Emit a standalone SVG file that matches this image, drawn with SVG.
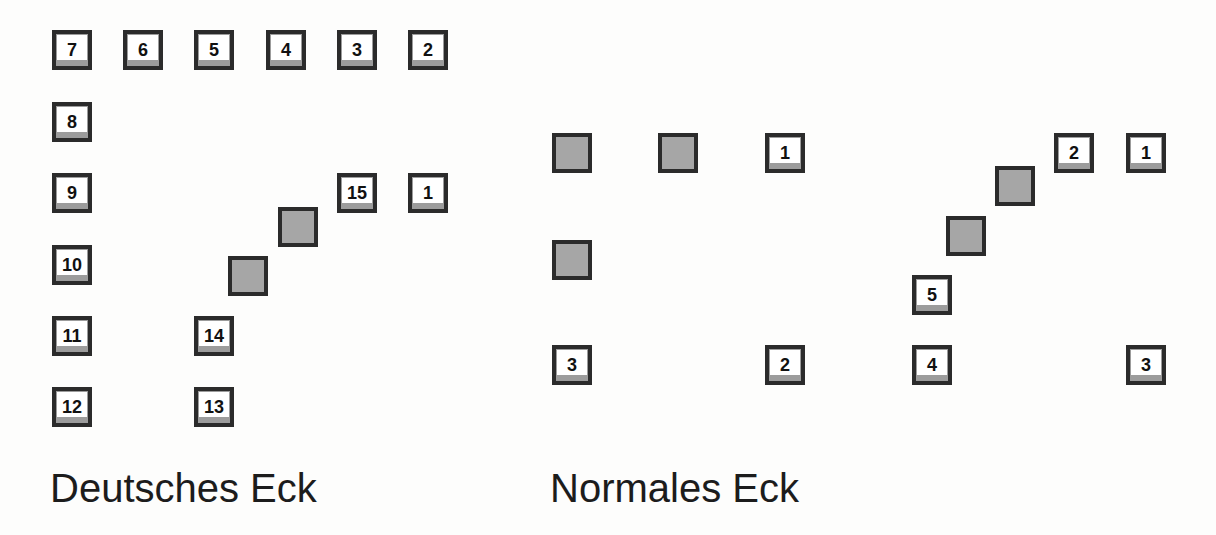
<svg xmlns="http://www.w3.org/2000/svg" xmlns:xlink="http://www.w3.org/1999/xlink" width="1216" height="535" viewBox="0 0 1216 535">
<style>
.num{font-family:"Liberation Sans",Arial,sans-serif;font-weight:bold;font-size:18px;fill:#111;text-anchor:middle}
.lbl{font-family:"Liberation Sans",Arial,sans-serif;font-size:40px;fill:#1c1c1c}
</style>
<defs>
<g id="tile">
<rect x="-20" y="-20" width="40" height="40" fill="#2b2b2b"/>
<rect x="-16" y="-16" width="32" height="32" fill="#9c9c9c"/>
<rect x="-15" y="-15" width="30" height="25" fill="#ffffff"/>
</g>
<g id="gtile">
<rect x="-20" y="-20" width="40" height="40" fill="#2b2b2b"/>
<rect x="-16" y="-16" width="32" height="32" fill="#a6a6a6"/>
</g>
</defs>
<rect width="1216" height="535" fill="#fdfdfc"/>
<g id="deutsches-eck">
<g id="d7"><use xlink:href="#tile" x="72" y="50"/><text class="num" x="72" y="56">7</text></g>
<g id="d6"><use xlink:href="#tile" x="143" y="50"/><text class="num" x="143" y="56">6</text></g>
<g id="d5"><use xlink:href="#tile" x="214" y="50"/><text class="num" x="214" y="56">5</text></g>
<g id="d4"><use xlink:href="#tile" x="286" y="50"/><text class="num" x="286" y="56">4</text></g>
<g id="d3"><use xlink:href="#tile" x="357" y="50"/><text class="num" x="357" y="56">3</text></g>
<g id="d2"><use xlink:href="#tile" x="428" y="50"/><text class="num" x="428" y="56">2</text></g>
<g id="d8"><use xlink:href="#tile" x="72" y="122"/><text class="num" x="72" y="128">8</text></g>
<g id="d9"><use xlink:href="#tile" x="72" y="193"/><text class="num" x="72" y="199">9</text></g>
<g id="d10"><use xlink:href="#tile" x="72" y="265"/><text class="num" x="72" y="271">10</text></g>
<g id="d11"><use xlink:href="#tile" x="72" y="336"/><text class="num" x="72" y="342">11</text></g>
<g id="d12"><use xlink:href="#tile" x="72" y="407"/><text class="num" x="72" y="413">12</text></g>
<g id="d15"><use xlink:href="#tile" x="357" y="193"/><text class="num" x="357" y="199">15</text></g>
<g id="d1"><use xlink:href="#tile" x="428" y="193"/><text class="num" x="428" y="199">1</text></g>
<g id="dg1"><use xlink:href="#gtile" x="298" y="227"/></g>
<g id="dg2"><use xlink:href="#gtile" x="248" y="276"/></g>
<g id="d14"><use xlink:href="#tile" x="214" y="336"/><text class="num" x="214" y="342">14</text></g>
<g id="d13"><use xlink:href="#tile" x="214" y="407"/><text class="num" x="214" y="413">13</text></g>
<text class="lbl" x="50" y="502">Deutsches Eck</text>
</g>
<g id="normales-eck-a">
<g id="ng1"><use xlink:href="#gtile" x="572" y="153"/></g>
<g id="ng2"><use xlink:href="#gtile" x="678" y="153"/></g>
<g id="n1"><use xlink:href="#tile" x="785" y="153"/><text class="num" x="785" y="159">1</text></g>
<g id="ng3"><use xlink:href="#gtile" x="572" y="260"/></g>
<g id="n3"><use xlink:href="#tile" x="572" y="365"/><text class="num" x="572" y="371">3</text></g>
<g id="n2"><use xlink:href="#tile" x="785" y="365"/><text class="num" x="785" y="371">2</text></g>
<text class="lbl" x="550" y="502">Normales Eck</text>
</g>
<g id="normales-eck-b">
<g id="m2"><use xlink:href="#tile" x="1074" y="153"/><text class="num" x="1074" y="159">2</text></g>
<g id="m1"><use xlink:href="#tile" x="1146" y="153"/><text class="num" x="1146" y="159">1</text></g>
<g id="mg1"><use xlink:href="#gtile" x="1015" y="186"/></g>
<g id="mg2"><use xlink:href="#gtile" x="966" y="236"/></g>
<g id="m5"><use xlink:href="#tile" x="932" y="295"/><text class="num" x="932" y="301">5</text></g>
<g id="m4"><use xlink:href="#tile" x="932" y="365"/><text class="num" x="932" y="371">4</text></g>
<g id="m3"><use xlink:href="#tile" x="1146" y="365"/><text class="num" x="1146" y="371">3</text></g>
</g>
<g id="connectors"/>
</svg>
